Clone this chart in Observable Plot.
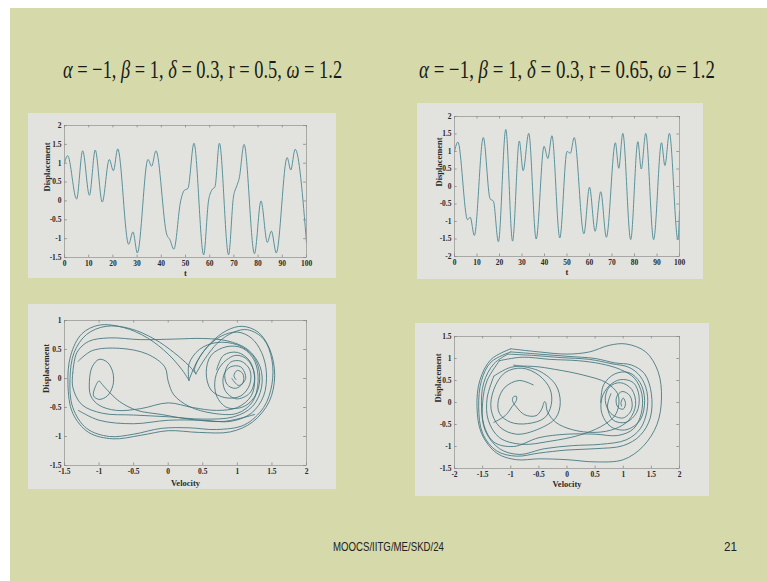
<!DOCTYPE html>
<html>
<head>
<meta charset="utf-8">
<script src="https://cdn.jsdelivr.net/npm/d3@7"></script>
<script src="https://cdn.jsdelivr.net/npm/@observablehq/plot@0.6"></script>
<style>
  html, body { margin: 0; padding: 0; }
  body { width: 767px; height: 581px; position: relative; overflow: hidden; background: #ffffff; }
  #slide { position: absolute; left: 10px; top: 8px; right: 0; bottom: 0; background: #d6daab; }
  .title { position: absolute; font-family: "Liberation Serif", "Times New Roman", serif; font-size: 26px;
           color: #1a1a1a; white-space: nowrap; transform-origin: 0 50%; line-height: 1; }
  .title i { font-style: italic; }
  .foot { position: absolute; font-family: "Liberation Sans", Arial, sans-serif; font-size: 13px; color: #222;
          white-space: nowrap; transform-origin: 0 50%; line-height: 1; }
  .panel { position: absolute; }
  .panel svg { display: block; overflow: visible; }
</style>
</head>
<body>
<div id="slide"></div>
<div class="title" id="titleA" data-left="63" data-top="57" data-width="279"></div>
<div class="title" id="titleB" data-left="419" data-top="57" data-width="296"></div>
<div class="panel" id="pA"></div>
<div class="panel" id="pB"></div>
<div class="panel" id="pC"></div>
<div class="panel" id="pD"></div>
<div class="foot" id="footL" data-left="333" data-top="540" data-width="111">MOOCS/IITG/ME/SKD/24</div>
<div class="foot" id="footR" data-left="724" data-top="540" data-width="13">21</div>
<script>
// Parameter sets of the two runs
const paramsA = {alpha: "−1", beta: "1", delta: "0.3", r: "0.5", omega: "1.2"};
const paramsB = {alpha: "−1", beta: "1", delta: "0.3", r: "0.65", omega: "1.2"};

// Time histories, r = 0.5 (time, displacement)
const tA = [0, 1.3, 5.0, 7.5, 10.3, 12.7, 15.6, 18.5, 20.2, 22.0, 26.5, 28.3, 30.1, 34.5, 36.0, 37.8,
            42.3, 43.5, 45.2, 48.0, 49.5, 51.0, 53.5, 57.5, 59.5, 60.8, 62.2, 64.0, 67.8, 69.8, 71.2, 72.2,
            74.2, 78.5, 81.2, 83.8, 85.5, 87.5, 92.0, 93.5, 95.3, 100];
const xA = [1.0, 1.2, 0.05, 1.33, 0.15, 1.35, -0.03, 1.1, 0.8, 1.38, -1.15, -0.82, -1.38, 1.1, 0.92, 1.33,
            -0.9, -1.02, -1.28, 0.0, 0.28, 0.33, 1.53, -1.43, 0.0, 0.28, 0.38, 1.53, -1.43, 0.1, 0.4, 0.6,
            1.5, -1.4, 0.0, -1.1, -0.8, -1.38, 1.15, 0.82, 1.37, -1.1];

// Time histories, r = 0.65
const tB = [0, 1.5, 5.8, 7.0, 8.8, 12.8, 15.8, 17.3, 19.5, 22.8, 25.8, 28.8, 30.5, 33.0, 36.3, 39.8,
            41.5, 43.3, 46.8, 50.0, 51.5, 53.2, 57.5, 60.0, 62.5, 65.0, 67.5, 71.5, 73.0, 74.8, 78.3,
            81.5, 83.0, 85.0, 88.5, 92.0, 93.5, 95.5, 99.3, 100];
const xB = [1.0, 1.27, -0.95, -0.88, -1.4, 1.4, -0.35, -0.42, -1.58, 1.63, -1.56, 1.3, 0.45, 1.52, -1.5, 1.15,
            0.8, 1.45, -1.47, 1.0, 0.95, 1.4, -1.35, -0.02, -1.28, -0.15, -1.45, 1.25, 0.52, 1.52, -1.52,
            1.28, 0.5, 1.52, -1.52, 1.25, 0.6, 1.52, -1.52, -0.7];

// Phase-plane orbit pieces, r = 0.5: [velocity, displacement]
const phaseA = [
  [[0.3,-0.03],[0.42,0.3],[0.62,0.62],[0.85,0.83],[1.07,0.9],[1.3,0.8],[1.47,0.5],[1.54,0.05],[1.46,-0.4],
   [1.22,-0.75],[0.9,-0.92],[0.45,-0.93],[0.0,-0.9],[-0.4,-0.98],[-0.8,-1.04],[-1.15,-0.93],[-1.38,-0.6],
   [-1.45,-0.1],[-1.41,0.4],[-1.25,0.77],[-1.0,0.92],[-0.65,0.88],[-0.3,0.7],[0.0,0.42],[0.2,0.15],[0.3,-0.03]],
  [[0.4,0.08],[0.52,0.32],[0.72,0.62],[0.95,0.8],[1.15,0.84],[1.38,0.68],[1.5,0.32],[1.5,-0.1],[1.38,-0.5],
   [1.1,-0.8],[0.7,-0.88],[0.3,-0.85],[-0.1,-0.86],[-0.5,-0.96],[-0.85,-1.0],[-1.18,-0.86],[-1.38,-0.5],
   [-1.42,0.0],[-1.36,0.45],[-1.18,0.76],[-0.9,0.9],[-0.55,0.86],[-0.2,0.68],[0.08,0.45],[0.3,0.22],[0.4,0.08]],
  [[-1.38,0.1],[-1.32,0.45],[-1.15,0.64],[-0.85,0.7],[-0.4,0.67],[0.1,0.68],[0.5,0.69],[0.85,0.65],[1.15,0.5],
   [1.33,0.2],[1.35,-0.15],[1.22,-0.48],[0.95,-0.66],[0.5,-0.7],[0.0,-0.66],[-0.5,-0.63],[-0.95,-0.6],
   [-1.25,-0.45],[-1.38,-0.15],[-1.38,0.1]],
  [[-1.3,0.3],[-1.1,0.48],[-0.7,0.52],[-0.3,0.42],[-0.05,0.2],[0.0,-0.05],[0.08,-0.28],[0.3,-0.48],[0.65,-0.6],
   [1.0,-0.6],[1.22,-0.4],[1.3,-0.05],[1.25,0.3],[1.08,0.52],[0.85,0.55],[0.62,0.4],[0.55,0.1],[0.62,-0.2],
   [0.82,-0.33],[1.05,-0.3],[1.18,-0.1],[1.18,0.15],[1.05,0.3],[0.9,0.28],[0.82,0.1],[0.85,-0.1],[0.97,-0.17],
   [1.08,-0.08],[1.08,0.08],[1.0,0.14],[0.95,0.05],[0.98,-0.02]],
  [[1.25,-0.62],[0.8,-0.74],[0.3,-0.7],[-0.1,-0.62],[-0.45,-0.55],[-0.7,-0.4],[-0.88,-0.2],[-0.97,-0.08],
   [-1.0,-0.04],[-1.06,-0.16],[-1.08,-0.3],[-1.0,-0.36],[-0.88,-0.3],[-0.8,-0.12],[-0.8,0.1],[-0.88,0.28],
   [-1.0,0.33],[-1.1,0.2],[-1.14,-0.05],[-1.12,-0.3],[-1.0,-0.46],[-0.75,-0.55],[-0.4,-0.52],[0.0,-0.42],
   [0.35,-0.5],[0.7,-0.55],[1.0,-0.5],[1.2,-0.3],[1.25,0.0],[1.18,0.3],[1.0,0.45],[0.8,0.4],[0.7,0.15]],
  [[0.3,-0.03],[0.3,0.25],[0.45,0.5],[0.7,0.62],[1.0,0.58],[1.22,0.4],[1.32,0.1],[1.28,-0.25],[1.1,-0.48],
   [0.85,-0.5],[0.7,-0.3],[0.68,0.0],[0.78,0.25],[0.98,0.4],[1.15,0.32],[1.25,0.05],[1.18,-0.25],[0.98,-0.35],
   [0.82,-0.2],[0.8,0.05],[0.9,0.2],[1.05,0.2],[1.12,0.0],[1.02,-0.12],[0.92,0.0]],
  [[-1.3,-0.55],[-1.0,-0.72],[-0.5,-0.78],[0.0,-0.72],[0.5,-0.72],[0.9,-0.74],[1.2,-0.6],[1.38,-0.3],[1.42,0.1],
   [1.35,0.45],[1.2,0.7],[1.0,0.8],[0.75,0.72],[0.5,0.45],[0.38,0.15],[0.4,0.08]]
];

// Phase-plane orbit pieces, r = 0.65: [velocity, displacement]
const phaseB = [
  [[-1.0,1.22],[-0.5,1.15],[0.0,1.1],[0.4,1.15],[0.75,1.3],[1.05,1.33],[1.4,1.15],[1.62,0.7],[1.68,0.1],
   [1.6,-0.5],[1.35,-1.0],[1.0,-1.3],[0.5,-1.35],[0.0,-1.3],[-0.5,-1.28],[-0.9,-1.3],[-1.25,-1.15],
   [-1.52,-0.7],[-1.6,-0.1],[-1.55,0.5],[-1.35,0.98],[-1.0,1.22]],
  [[-1.0,1.15],[-0.5,1.1],[0.0,1.05],[0.5,1.0],[0.85,0.9],[1.15,0.85],[1.38,0.65],[1.5,0.2],[1.48,-0.35],
   [1.3,-0.75],[1.0,-0.98],[0.5,-1.05],[0.0,-1.08],[-0.5,-1.15],[-0.9,-1.22],[-1.25,-1.1],[-1.5,-0.7],
   [-1.57,-0.1],[-1.52,0.5],[-1.35,0.92],[-1.0,1.15]],
  [[-1.05,1.1],[-0.6,1.07],[-0.1,1.02],[0.4,0.98],[0.8,0.88],[1.1,0.8],[1.3,0.6],[1.42,0.25],[1.42,-0.2],
   [1.3,-0.6],[1.05,-0.85],[0.6,-0.95],[0.1,-0.98],[-0.4,-1.05],[-0.85,-1.18],[-1.2,-1.05],[-1.45,-0.65],
   [-1.52,-0.1],[-1.48,0.45],[-1.3,0.88],[-1.05,1.1]],
  [[-1.2,0.95],[-0.8,1.03],[-0.3,0.98],[0.2,0.95],[0.6,0.88],[0.95,0.75],[1.2,0.55],[1.33,0.2],[1.32,-0.25],
   [1.18,-0.6],[0.9,-0.75],[0.5,-0.72],[0.0,-0.72],[-0.5,-0.8],[-0.95,-1.0],[-1.3,-0.9],[-1.48,-0.5],
   [-1.5,0.0],[-1.42,0.5],[-1.2,0.95]],
  [[-0.95,0.85],[-0.5,0.72],[-0.2,0.4],[-0.12,0.0],[-0.2,-0.35],[-0.5,-0.6],[-0.9,-0.72],[-1.2,-0.55],
   [-1.35,-0.15],[-1.3,0.3],[-1.1,0.68],[-0.8,0.78],[-0.5,0.62],[-0.3,0.3],[-0.28,-0.05],[-0.4,-0.35],
   [-0.7,-0.48],[-1.0,-0.45],[-1.2,-0.25],[-1.22,0.05],[-1.1,0.35],[-0.85,0.5],[-0.6,0.4]],
  [[-1.3,-0.45],[-1.1,-0.3],[-0.98,-0.1],[-0.9,0.05],[-0.9,0.14],[-0.95,0.13],[-0.97,0.05],[-0.9,-0.1],
   [-0.75,-0.28],[-0.55,-0.3],[-0.45,-0.15],[-0.4,0.02],[-0.38,0.0],[-0.35,-0.2],[-0.2,-0.45],[0.1,-0.62],
   [0.5,-0.68],[0.85,-0.6],[1.1,-0.4],[1.22,-0.05],[1.15,0.3],[0.95,0.45],[0.75,0.35],[0.68,0.05],[0.78,-0.25],
   [1.0,-0.35],[1.15,-0.15],[1.12,0.15],[0.98,0.25],[0.88,0.12],[0.9,-0.1],[1.0,-0.15],[1.04,-0.02],
   [1.0,0.1],[0.96,0.0],[0.97,-0.08]],
  [[0.6,0.0],[0.65,0.4],[0.85,0.65],[1.1,0.68],[1.3,0.45],[1.38,0.05],[1.3,-0.4],[1.05,-0.62],[0.78,-0.55],
   [0.62,-0.25],[0.62,0.1],[0.75,0.38],[0.95,0.52],[1.18,0.45],[1.28,0.15],[1.24,-0.22],[1.05,-0.45],
   [0.82,-0.4],[0.72,-0.1],[0.78,0.2]],
  [[-1.3,0.6],[-1.0,0.8],[-0.6,0.82],[-0.2,0.75],[0.3,0.62],[0.7,0.45],[0.9,0.2],[0.92,-0.05],[0.85,-0.3],
   [0.6,-0.55],[0.2,-0.75],[-0.3,-0.88],[-0.8,-0.95],[-1.2,-0.8],[-1.4,-0.4],[-1.42,0.1],[-1.3,0.6]]
];

const lineColor = "#5a929c";
const orbitColor = "#3f737c";
const inkColor = "#2a2a2a";

// Inward MATLAB-style ticks on all four sides of the frame
function innerTicks(xd, yd, xt, yt) {
  const lx = (xd[1] - xd[0]) * 0.012, ly = (yd[1] - yd[0]) * 0.018;
  const o = {stroke: "#8a8a8a", strokeWidth: 0.8};
  return [
    Plot.ruleX(xt, {x: d => d, y1: yd[0], y2: yd[0] + ly, ...o}),
    Plot.ruleX(xt, {x: d => d, y1: yd[1], y2: yd[1] - ly, ...o}),
    Plot.ruleY(yt, {y: d => d, x1: xd[0], x2: xd[0] + lx, ...o}),
    Plot.ruleY(yt, {y: d => d, x1: xd[1], x2: xd[1] - lx, ...o})
  ];
}

function panel(el, cfg) {
  const {left, top, width, height, m, xd, yd, xt, yt, xLabel, xLabelDy, yLabelDx, marks} = cfg;
  const box = document.getElementById(el);
  box.style.left = left + "px";
  box.style.top = top + "px";
  const chart = Plot.plot({
    width, height,
    marginLeft: m[0], marginRight: m[1], marginTop: m[2], marginBottom: m[3],
    x: {domain: xd},
    y: {domain: yd},
    style: {background: "#e2e3df", fontFamily: "Liberation Serif, Times New Roman, serif",
            fontSize: "7.5px", fontWeight: "bold", color: inkColor, overflow: "visible"},
    marks: [
      ...marks,
      Plot.frame({stroke: "#9a9a9a", strokeWidth: 0.8}),
      ...innerTicks(xd, yd, xt, yt),
      Plot.axisX(xt, {tickSize: 0, tickPadding: 3, tickFormat: d => String(d), label: null, fill: inkColor}),
      Plot.axisY(yt, {tickSize: 0, tickPadding: 3, tickFormat: d => String(d), label: null, fill: inkColor}),
      Plot.text([xLabel], {text: d => d, frameAnchor: "bottom", lineAnchor: "top", dy: xLabelDy,
                           fontSize: 8.5, fill: inkColor}),
      Plot.text(["Displacement"], {text: d => d, frameAnchor: "left", rotate: -90, dx: yLabelDx,
                                   fontSize: 8.5, fill: inkColor})
    ]
  });
  box.appendChild(chart);
}

const seriesA = tA.map((t, i) => ({t, x: xA[i]}));
const seriesB = tB.map((t, i) => ({t, x: xB[i]}));
const orbitsA = phaseA.flatMap((seg, k) => seg.map(([v, d]) => ({seg: k, v, d})));
const orbitsB = phaseB.flatMap((seg, k) => seg.map(([v, d]) => ({seg: k, v, d})));
const stepTicks = (a, b, s) => d3.range(a, b + s / 2, s).map(v => +v.toFixed(1));

panel("pA", {
  left: 28, top: 113, width: 308, height: 165, m: [36, 30, 12, 21],
  xd: [0, 100], yd: [-1.5, 2], xt: stepTicks(0, 100, 10), yt: stepTicks(-1.5, 2, 0.5),
  xLabel: "t", xLabelDy: 12, yLabelDx: -17,
  marks: [Plot.line(seriesA, {x: "t", y: "x", curve: "monotone-x", stroke: lineColor, strokeWidth: 1})]
});

panel("pB", {
  left: 417, top: 103, width: 286, height: 176, m: [37, 24, 13, 23],
  xd: [0, 100], yd: [-2, 2], xt: stepTicks(0, 100, 10), yt: stepTicks(-2, 2, 0.5),
  xLabel: "t", xLabelDy: 12, yLabelDx: -15,
  marks: [Plot.line(seriesB, {x: "t", y: "x", curve: "monotone-x", stroke: lineColor, strokeWidth: 1})]
});

panel("pC", {
  left: 28, top: 304, width: 308, height: 185, m: [36, 30, 16, 24],
  xd: [-1.5, 2], yd: [-1.5, 1], xt: stepTicks(-1.5, 2, 0.5), yt: stepTicks(-1.5, 1, 0.5),
  xLabel: "Velocity", xLabelDy: 14, yLabelDx: -18,
  marks: [Plot.line(orbitsA, {x: "v", y: "d", z: "seg", curve: "catmull-rom", stroke: orbitColor, strokeWidth: 0.85})]
});

panel("pD", {
  left: 415, top: 323, width: 294, height: 173, m: [39, 30, 13, 28],
  xd: [-2, 2], yd: [-1.5, 1.5], xt: stepTicks(-2, 2, 0.5), yt: stepTicks(-1.5, 1.5, 0.5),
  xLabel: "Velocity", xLabelDy: 12, yLabelDx: -16,
  marks: [Plot.line(orbitsB, {x: "v", y: "d", z: "seg", curve: "catmull-rom", stroke: orbitColor, strokeWidth: 0.85})]
});

// Slide titles
function titleHTML(p) {
  return `<i>α</i> = ${p.alpha}, <i>β</i> = ${p.beta}, <i>δ</i> = ${p.delta}, r = ${p.r}, <i>ω</i> = ${p.omega}`;
}
document.getElementById("titleA").innerHTML = titleHTML(paramsA);
document.getElementById("titleB").innerHTML = titleHTML(paramsB);

// Fit each text block to its column width
for (const el of document.querySelectorAll(".title, .foot")) {
  el.style.left = el.dataset.left + "px";
  el.style.top = el.dataset.top + "px";
  const w = el.getBoundingClientRect().width;
  el.style.transform = `scaleX(${(+el.dataset.width / w).toFixed(3)})`;
}
</script>
</body>
</html>
